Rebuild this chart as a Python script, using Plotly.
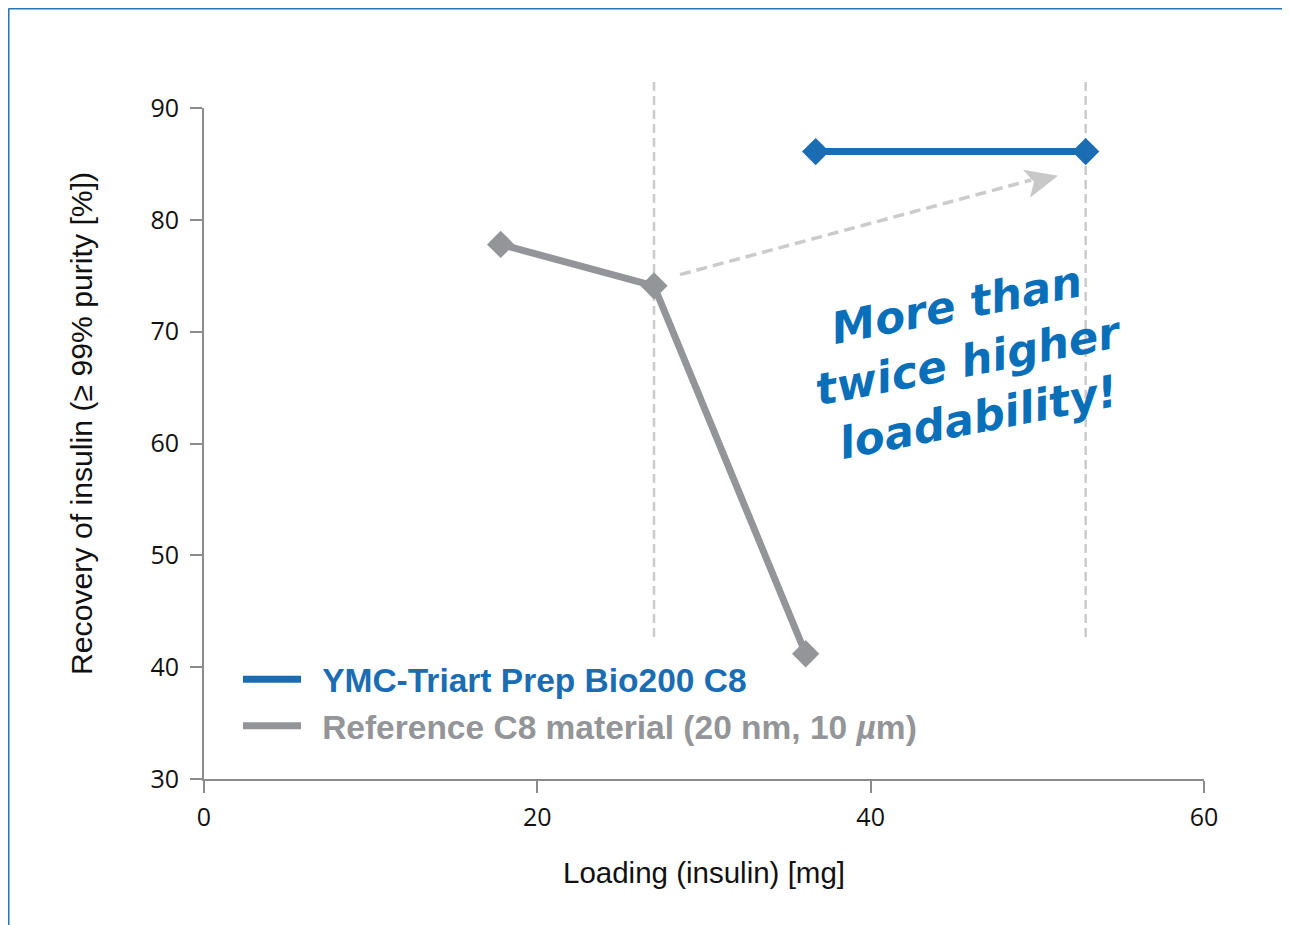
import plotly.graph_objects as go

# ---- data ----
ref_name = "Reference C8 material (20 nm, 10 <i>µ</i>m)"
ymc_name = "YMC-Triart Prep Bio200 C8"
gray_x = [17.8, 27.0, 36.1]
gray_y = [77.8, 74.1, 41.2]
blue_x = [36.7, 52.9]
blue_y = [86.1, 86.1]
x_ticks = [0, 20, 40, 60]
y_ticks = [30, 40, 50, 60, 70, 80, 90]

BLUE = "#1a6db3"
GRAY = "#939598"
TEXTBLUE = "#0a6fb9"
DASH = "#cbcbcb"

W, H = 1290, 925
L, R, T, B = 196, 94, 100, 154
PW, PH = W - L - R, H - T - B
OFF = 8  # page body margin


def px_x(p):  # screen pixel -> paper x
    return (p - OFF - L) / PW


def px_y(p):  # screen pixel -> paper y
    return (H - B - (p - OFF)) / PH


fig = go.Figure()

gap = "<span style='font-size:29px'>\u00a0\u00a0</span>"
# YMC series
fig.add_trace(go.Scatter(x=blue_x, y=blue_y, mode="lines",
                         line=dict(color=BLUE, width=7),
                         name=f"{gap}<b><span style='color:{BLUE}'>{ymc_name}</span></b>"))
fig.add_trace(go.Scatter(x=blue_x, y=blue_y, mode="markers", showlegend=False,
                         marker=dict(symbol="diamond", size=21, color=BLUE)))
# Reference series
fig.add_trace(go.Scatter(x=gray_x, y=gray_y, mode="lines",
                         line=dict(color=GRAY, width=7),
                         name=f"{gap}<b><span style='color:{GRAY}'>{ref_name}</span></b>"))
fig.add_trace(go.Scatter(x=gray_x, y=gray_y, mode="markers", showlegend=False,
                         marker=dict(symbol="diamond", size=21, color=GRAY)))

shapes = []
# vertical dashed guides at the reference knee and the YMC max loading
for vx in (gray_x[1], blue_x[-1]):
    shapes.append(dict(type="line", xref="x", yref="paper", x0=vx, x1=vx,
                       y0=px_y(637), y1=px_y(82),
                       line=dict(color=DASH, width=2.5, dash="9px,5px"), layer="below"))

# dashed arrow shaft
ax0, ay0 = 28.56, 75.1
ax1, ay1 = 51.24, 83.94
shapes.append(dict(type="line", xref="x", yref="y", x0=ax0, y0=ay0,
                   x1=ax1 - 1.6, y1=ay1 - 0.38,
                   line=dict(color=DASH, width=3.5, dash="11px,6px")))
# arrow head (pixel path anchored at tip)
shapes.append(dict(type="path", xref="x", yref="y", xsizemode="pixel", ysizemode="pixel",
                   xanchor=ax1, yanchor=ay1,
                   path="M0,0 L-35,6 L-24,-6 L-28,-22 Z",
                   fillcolor="#c8c8c8", line=dict(width=0)))

# outer frame lines (top and left)
shapes.append(dict(type="line", xref="paper", yref="paper", x0=px_x(8.5), x1=px_x(1300),
                   y0=px_y(8.5), y1=px_y(8.5), line=dict(color="#2574b8", width=2)))
shapes.append(dict(type="line", xref="paper", yref="paper", x0=px_x(8.5), x1=px_x(8.5),
                   y0=px_y(8.5), y1=px_y(940), line=dict(color="#2574b8", width=2)))

annotations = [
    dict(text="More than<br>twice higher<br>loadability!", xref="x", yref="y",
         x=45.84, y=67.4, showarrow=False, textangle=-11,
         font=dict(family="DejaVu Sans", size=44, color=TEXTBLUE, weight="bold", style="italic"),
         align="center", xanchor="center", yanchor="middle"),
    dict(text="Recovery of insulin (≥ 99% purity [%])", xref="paper", yref="paper",
         x=px_x(82), y=px_y(424), showarrow=False, textangle=-90,
         font=dict(family="Liberation Sans", size=30.2, color="#111111"),
         xanchor="center", yanchor="middle"),
]

fig.update_layout(
    width=W, height=H,
    margin=dict(l=L, r=R, t=T, b=B),
    paper_bgcolor="white", plot_bgcolor="white",
    font=dict(family="Open Sans", size=25, color="#111111"),
    shapes=shapes, annotations=annotations,
    showlegend=True,
    legend=dict(x=px_x(238), y=px_y(651), xanchor="left", yanchor="top",
                bgcolor="rgba(0,0,0,0)", itemwidth=58,
                font=dict(family="Liberation Sans", size=33.5),
                tracegroupgap=0),
)
fig.update_xaxes(range=[0, 60], tickvals=x_ticks, showgrid=False, zeroline=False,
                 showline=True, linecolor="#8c8c8c", linewidth=2,
                 ticks="outside", ticklen=12, tickwidth=2, tickcolor="#8c8c8c",
                 ticklabelstandoff=3,
                 tickfont=dict(family="Open Sans", size=25, color="#111111"),
                 title=dict(text="Loading (insulin) [mg]", standoff=30,
                            font=dict(family="Liberation Sans", size=29.5, color="#111111")))
fig.update_yaxes(range=[30, 90], tickvals=y_ticks, showgrid=False, zeroline=False,
                 showline=True, linecolor="#8c8c8c", linewidth=2,
                 ticks="outside", ticklen=12, tickwidth=2, tickcolor="#8c8c8c",
                 ticklabelstandoff=6,
                 tickfont=dict(family="Open Sans", size=25, color="#111111"))

fig.write_html("out.html")
